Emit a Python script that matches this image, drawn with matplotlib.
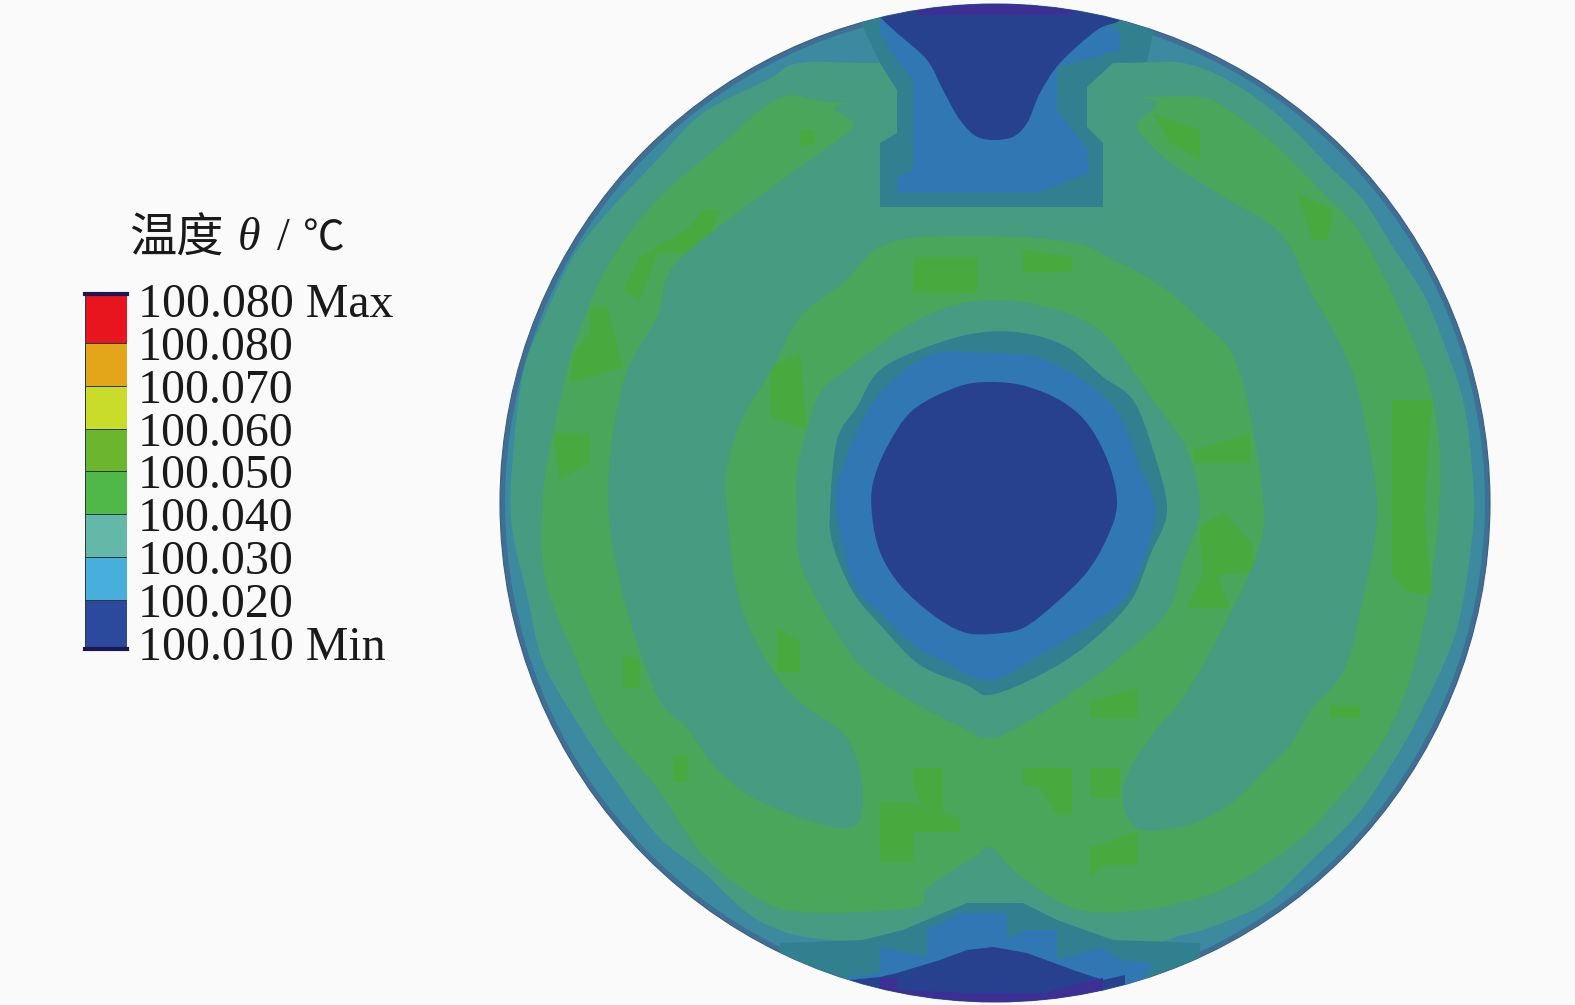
#!/usr/bin/python3
# -*- coding: utf-8 -*-
# Temperature contour on a disk section, regions
import numpy as np
from matplotlib import pyplot as plt
from matplotlib.colors import ListedColormap
from matplotlib.patches import Ellipse, PathPatch
from matplotlib.path import Path

# Legend
title_cjk = "温度"
title_symbol = "θ"
title_unit = "℃"
level_labels = ["100.080 Max", "100.080", "100.070", "100.060", "100.050",
                "100.040", "100.030", "100.020", "100.010 Min"]
level_colors = ["#2b4a9e", "#48aedc", "#63b8a8", "#4fb848",
                "#6cb52e", "#c9dc2a", "#e3a51a", "#e8141e"]
level_edges = [-0.12, 1, 2, 3, 4, 5, 6, 7, 8.12]
level_ticks = [8, 7, 6, 5, 4, 3, 2, 1, 0]

# Band colours on the disk
c_bg = "#fafafa"
c_edge = "#3f6f95"
c_rim = "#3c8a9f"
c_teal = "#31808f"
c_tealgreen = "#459c80"
c_green = "#49a65a"
c_bright = "#48aa3e"
c_blue = "#2f78b4"
c_dark = "#27418f"
c_purple = "#3d2f93"

# Disk outline, x/y in image pixels
disk_center = (995, 503)
disk_width = 990
disk_height = 998

# Contour regions, x/y in image pixels
tealgreen_region = [(512,467),(523,373),(543,320),(573,257),(607,213),(657,160),(703,113),(767,80),(800,63),
                    (880,63),(1120,63),(1183,63),(1233,83),(1280,117),(1330,167),(1363,200),(1393,247),(1423,293),
                    (1440,333),(1463,400),(1472,467),(1473,528),(1457,628),(1423,708),(1393,762),(1357,815),
                    (1310,862),(1267,902),(1217,925),(1183,935),(1120,945),(863,942),(767,925),(703,872),(657,835),
                    (607,768),(577,722),(543,662),(527,595),(512,528)]
green_region = [(783,97),(853,103),(1137,97),(1200,97),(1233,113),(1273,143),(1323,193),(1360,233),(1403,317),
                (1433,400),(1440,495),(1423,628),(1390,728),(1333,805),(1280,855),(1200,898),(1090,912),(1023,878),
                (992,848),(973,858),(927,888),(913,908),(800,912),(753,895),(703,855),(657,788),(608,728),(577,662),
                (545,578),(543,495),(553,433),(573,350),(607,267),(657,200),(723,143)]
crescents = [(847,828),(767,805),(720,772),(687,728),(657,695),(623,595),(608,495),(623,383),(657,317),(673,267),
             (737,213),(800,167),(853,127),(853,103),(1137,97),(1137,127),(1167,160),(1217,193),(1280,233),(1310,290),
             (1343,350),(1360,400),(1377,510),(1360,612),(1343,672),(1312,708),(1290,745),(1263,772),(1233,802),
             (1187,825),(1137,828),(1123,788),(1150,738),(1187,692),(1233,608),(1260,545),(1263,495),(1247,400),
             (1230,350),(1200,320),(1167,290),(1120,263),(1057,240),(900,240),(843,283),(800,317),(773,367),(743,417),
             (727,467),(727,510),(738,595),(767,662),(800,702),(847,738),(863,795)]
bright_patches = [
    [(703,210),(720,210),(703,253),(657,253),(640,300),(623,290),(640,257),(690,227)],
    [(590,307),(607,307),(623,367),(570,383),(573,353),(590,333)],
    [(553,433),(590,433),(590,463),(560,480)],
    [(770,367),(800,353),(807,430),(770,417)],
    [(913,257),(977,257),(977,293),(913,293)],
    [(1023,250),(1072,257),(1072,272),(1023,272)],
    [(800,130),(815,130),(815,145),(800,145)],
    [(1153,113),(1200,130),(1200,160),(1170,143)],
    [(1297,193),(1333,210),(1327,240),(1313,240)],
    [(1392,400),(1432,400),(1424,510),(1432,595),(1407,592),(1392,575)],
    [(1193,450),(1250,433),(1250,463),(1193,463)],
    [(1200,528),(1223,512),(1253,545),(1253,572),(1217,575),(1230,608),(1187,608),(1203,575)],
    [(880,802),(913,802),(960,818),(960,832),(913,832),(913,862),(880,862)],
    [(913,768),(943,768),(943,815),(927,815),(913,785)],
    [(1023,768),(1072,768),(1072,815),(1057,815),(1040,788),(1023,785)],
    [(1090,768),(1120,768),(1120,798),(1090,798)],
    [(1090,848),(1137,832),(1137,865),(1103,865),(1090,878)],
    [(777,628),(800,642),(800,672),(777,672)],
    [(623,655),(640,658),(640,688),(623,688)],
    [(673,755),(688,755),(688,782),(673,782)],
    [(1090,702),(1137,688),(1137,718),(1090,718)],
    [(1330,705),(1360,705),(1360,718),(1330,718)],
]
hub_tealgreen = [(990,300),(923,317),(850,367),(820,393),(807,430),(797,473),(797,510),(800,562),(830,622),(863,668),
                 (913,702),(957,725),(990,738),(1027,722),(1073,692),(1123,655),(1167,612),(1183,562),(1200,510),
                 (1187,450),(1153,400),(1137,377),(1103,333),(1057,310)]
hub_teal = [(977,333),(927,347),(880,370),(857,407),(837,440),(830,510),(833,545),(853,592),(883,628),(920,665),
            (967,685),(990,695),(1040,675),(1087,645),(1130,602),(1150,555),(1167,510),(1153,450),(1133,400),
            (1103,377),(1067,347),(1023,333)]
hub_blue = [(990,353),(930,355),(883,390),(860,425),(843,467),(836,505),(853,583),(880,612),(910,642),(950,665),
            (990,680),(1040,655),(1090,625),(1130,590),(1155,515),(1140,467),(1120,417),(1090,385),(1040,358)]
hub_dark = [(990,382),(957,387),(913,410),(887,447),(873,483),(872,515),(880,552),(900,585),(933,615),(963,632),
            (990,634),(1023,628),(1057,602),(1087,572),(1107,538),(1117,505),(1110,467),(1090,427),(1063,402),(1025,386)]
top_teal = [(880,207),(1103,207),(1103,143),(1087,127),(1087,87),(1113,63),(1147,62),(1160,0),(850,0),(880,63),(897,90),
            (897,133),(880,143)]
top_blue = [(897,192),(1040,192),(1088,173),(1088,150),(1057,110),(1057,67),(1120,50),(1120,33),(1070,0),(880,0),(880,33),
            (897,60),(913,80),(913,170),(897,177)]
top_dark = [(865,0),(880,17),(897,33),(927,60),(943,90),(960,120),(980,138),(1010,138),(1027,123),(1040,93),(1060,63),
            (1097,30),(1120,20),(1125,0)]
top_rim = [(905,0),(1085,0),(1070,15),(920,15)]
bottom_teal = [(780,943),(863,940),(903,930),(943,913),(967,903),(1023,903),(1057,920),(1113,940),(1200,943),(1200,1005),
               (780,1005)]
bottom_blue = [(927,957),(927,930),(960,913),(1007,913),(1007,940),(1023,930),(1057,930),(1057,960),(1103,947),(1120,960),
               (1153,963),(1130,1005),(840,1005),(847,977),(880,973),(880,947)]
bottom_dark = [(850,980),(880,977),(897,973),(940,960),(967,950),(993,947),(1027,953),(1073,970),(1103,980),(1125,975),
               (1125,1005),(850,1005)]
bottom_rim = [(880,978),(897,978),(897,990),(965,993),(1045,993),(1073,985),(1103,978),(1103,1005),(880,1005)]


def smooth_path(points):
    """Closed Catmull-Rom curve through the traced points, as bezier segments."""
    p = np.array(points, dtype=float)
    n = len(p)
    verts = [p[0]]
    codes = [Path.MOVETO]
    for i in range(n):
        c1 = p[i] + (p[(i + 1) % n] - p[i - 1]) / 6
        c2 = p[(i + 1) % n] - (p[(i + 2) % n] - p[i]) / 6
        verts += [c1, c2, p[(i + 1) % n]]
        codes += [Path.CURVE4, Path.CURVE4, Path.CURVE4]
    return Path(verts, codes)


def straight_path(points):
    return Path(list(points) + [points[0]], closed=True)


fig = plt.figure(figsize=(15.75, 10.05), dpi=100, facecolor=c_bg)
ax = fig.add_axes([0, 0, 1, 1])
ax.set_xlim(0, 1575)
ax.set_ylim(1005, 0)
ax.axis('off')

disk = Ellipse(disk_center, disk_width, disk_height, fc=c_edge, ec='#3a5f80', lw=0.8, zorder=1)
ax.add_patch(disk)
rim_ring = Ellipse(disk_center, disk_width - 10, disk_height - 10, fc=c_rim, ec='none', zorder=1.5)
ax.add_patch(rim_ring)

# bands go from outside in, each one painted over the last
# walls of the notches are straight in the picture, the rest is curved
layers = [(tealgreen_region, c_tealgreen, True), (green_region, c_green, True)]
layers += [(p, c_bright, False) for p in bright_patches]
layers += [(crescents, c_tealgreen, True), (hub_tealgreen, c_tealgreen, True), (hub_teal, c_teal, True),
           (hub_blue, c_blue, True), (hub_dark, c_dark, True), (top_teal, c_teal, False), (top_blue, c_blue, False),
           (top_dark, c_dark, True), (top_rim, c_purple, False), (bottom_teal, c_teal, False),
           (bottom_blue, c_blue, False), (bottom_dark, c_dark, False), (bottom_rim, c_purple, False)]
for i, (points, colour, curved) in enumerate(layers):
    path = smooth_path(points) if curved else straight_path(points)
    patch = PathPatch(path, fc=colour, ec='none', lw=0, zorder=2 + i * 0.01)
    ax.add_patch(patch)
    patch.set_clip_path(disk)

# Legend title, pieces placed separately since the fonts differ
ax.text(129, 239, title_cjk, family='Noto Sans CJK SC', fontsize=34, color='#1a1a1a', va='center', ha='left', weight='light')
ax.text(238, 239, title_symbol, family='Liberation Serif', style='italic', fontsize=33, color='#1a1a1a', va='center', ha='left')
ax.text(277, 239, "/", family='Liberation Serif', fontsize=33, color='#1a1a1a', va='center', ha='left')
ax.text(303, 239, title_unit, family='Noto Sans CJK SC', fontsize=30, color='#1a1a1a', va='center', ha='left')

# Legend bar
cax = fig.add_axes([85 / 1575, 1 - 648.5 / 1005, 42 / 1575, 354 / 1005])
cmap = ListedColormap(level_colors)
cax.pcolormesh([0, 1], level_edges, np.arange(len(level_colors)).reshape(-1, 1), cmap=cmap,
               edgecolors='#2c3a40', linewidth=0.6)
cax.set_ylim(level_edges[0], level_edges[-1])
cax.set_xticks([])
cax.yaxis.tick_right()
cax.set_yticks(level_ticks)
cax.set_yticklabels(level_labels, family='Liberation Serif', fontsize=34.5, color='#1a1a1a')
cax.tick_params(axis='y', length=0, pad=8)
for side in ['left', 'right']:
    cax.spines[side].set_visible(False)
for side in ['top', 'bottom']:
    cax.spines[side].set_color('#1d1650')
    cax.spines[side].set_linewidth(3)

fig.savefig('out.png', dpi=100, facecolor=c_bg)
